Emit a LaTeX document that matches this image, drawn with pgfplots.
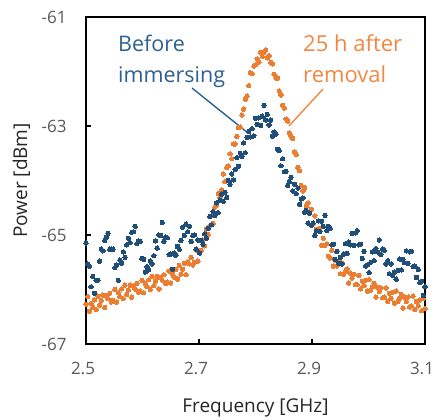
\documentclass[border=0pt]{standalone}
\usepackage{fontspec}
\setmainfont{Open Sans}
\usepackage{pgfplots}
\pgfplotsset{compat=1.18}
\definecolor{blueDot}{RGB}{31,78,121}
\definecolor{orangeDot}{RGB}{237,125,49}
\definecolor{blueTxt}{RGB}{46,96,146}
\definecolor{orangeTxt}{RGB}{242,135,66}
\definecolor{tickgray}{RGB}{89,89,89}
\begin{document}
\begin{tikzpicture}
\begin{axis}[
  scale only axis, width=339pt, height=327pt,
  xmin=2.5, xmax=3.1, ymin=-67, ymax=-61,
  xtick={2.5,2.7,2.9,3.1}, xticklabels={2.5,2.7,2.9,3.1},
  ytick={-67,-65,-63,-61}, yticklabels={-67,-65,-63,-61},
  tick pos=left, tick align=inside, major tick length=5pt,
  axis line style={line width=1.3pt, black},
  tick style={line width=1.3pt, black},
  ticklabel style={font=\fontsize{17}{20}\selectfont, text=tickgray},
  xticklabel style={yshift=-15pt, xshift=-3pt},
  yticklabel style={xshift=-16pt},
  xlabel={Frequency [GHz]}, ylabel={Power [dBm]},
  label style={font=\fontsize{19}{22}\selectfont, text=black!85},
  xlabel style={at={(axis description cs:0.5,-0.208)}, anchor=base},
  ylabel style={at={(axis description cs:-0.174,0.5)}, anchor=base, rotate=0},
]
\addplot[only marks, mark=*, mark size=2.2pt, mark options={draw=orangeDot, fill=orangeDot, line width=0pt}] coordinates {
(2.500,-66.27)(2.503,-66.13)(2.506,-66.40)(2.509,-66.26)(2.512,-66.33)(2.515,-66.19)(2.518,-66.37)(2.521,-66.12)
(2.524,-66.29)(2.527,-66.20)(2.530,-66.10)(2.533,-66.33)(2.536,-66.11)(2.539,-66.17)(2.542,-66.07)(2.545,-66.23)
(2.548,-66.20)(2.551,-66.00)(2.554,-66.23)(2.557,-66.06)(2.560,-66.13)(2.563,-65.99)(2.566,-66.17)(2.569,-65.92)
(2.572,-66.09)(2.575,-66.01)(2.578,-65.92)(2.581,-66.14)(2.584,-65.93)(2.587,-65.99)(2.590,-65.89)(2.593,-66.05)
(2.596,-66.03)(2.599,-65.83)(2.602,-66.06)(2.605,-65.89)(2.608,-65.95)(2.611,-65.82)(2.614,-66.00)(2.617,-65.76)
(2.620,-65.93)(2.623,-65.85)(2.626,-65.76)(2.629,-65.99)(2.632,-65.78)(2.635,-65.83)(2.638,-65.73)(2.641,-65.89)
(2.644,-65.86)(2.647,-65.66)(2.650,-65.88)(2.653,-65.71)(2.656,-65.77)(2.659,-65.63)(2.662,-65.81)(2.665,-65.56)
(2.668,-65.72)(2.671,-65.63)(2.674,-65.52)(2.677,-65.73)(2.680,-65.49)(2.683,-65.53)(2.686,-65.41)(2.689,-65.55)
(2.692,-65.50)(2.695,-65.28)(2.698,-65.48)(2.701,-65.28)(2.704,-65.28)(2.707,-65.09)(2.710,-65.20)(2.713,-64.89)
(2.716,-64.99)(2.719,-64.83)(2.722,-64.65)(2.725,-64.79)(2.728,-64.49)(2.731,-64.44)(2.734,-64.24)(2.737,-64.31)
(2.740,-64.17)(2.743,-63.88)(2.746,-64.02)(2.749,-63.76)(2.752,-63.73)(2.755,-63.51)(2.758,-63.60)(2.761,-63.33)
(2.764,-63.33)(2.767,-63.19)(2.770,-63.03)(2.773,-63.02)(2.776,-62.80)(2.779,-62.69)(2.782,-62.51)(2.785,-62.45)
(2.788,-62.26)(2.791,-62.02)(2.794,-62.04)(2.797,-61.90)(2.800,-61.88)(2.803,-61.77)(2.806,-61.83)(2.809,-61.65)
(2.812,-61.72)(2.815,-61.65)(2.818,-61.60)(2.821,-61.75)(2.824,-61.71)(2.827,-61.83)(2.830,-61.86)(2.833,-62.05)
(2.836,-62.12)(2.839,-62.12)(2.842,-62.36)(2.845,-62.43)(2.848,-62.62)(2.851,-62.67)(2.854,-62.87)(2.857,-62.91)
(2.860,-63.13)(2.863,-63.19)(2.866,-63.23)(2.869,-63.47)(2.872,-63.52)(2.875,-63.76)(2.878,-63.82)(2.881,-64.09)
(2.884,-64.19)(2.887,-64.13)(2.890,-64.47)(2.893,-64.41)(2.896,-64.58)(2.899,-64.53)(2.902,-64.80)(2.905,-64.65)
(2.908,-64.90)(2.911,-64.90)(2.914,-64.88)(2.917,-65.19)(2.920,-65.06)(2.923,-65.19)(2.926,-65.16)(2.929,-65.39)
(2.932,-65.42)(2.935,-65.28)(2.938,-65.57)(2.941,-65.46)(2.944,-65.57)(2.947,-65.49)(2.950,-65.71)(2.953,-65.51)
(2.956,-65.72)(2.959,-65.68)(2.962,-65.62)(2.965,-65.88)(2.968,-65.70)(2.971,-65.79)(2.974,-65.72)(2.977,-65.91)
(2.980,-65.91)(2.983,-65.74)(2.986,-65.99)(2.989,-65.85)(2.992,-65.93)(2.995,-65.83)(2.998,-66.03)(3.001,-65.82)
(3.004,-66.01)(3.007,-65.95)(3.010,-65.89)(3.013,-66.14)(3.016,-65.96)(3.019,-66.04)(3.022,-65.97)(3.025,-66.15)
(3.028,-66.14)(3.031,-65.97)(3.034,-66.22)(3.037,-66.07)(3.040,-66.16)(3.043,-66.05)(3.046,-66.25)(3.049,-66.03)
(3.052,-66.22)(3.055,-66.16)(3.058,-66.09)(3.061,-66.34)(3.064,-66.14)(3.067,-66.22)(3.070,-66.14)(3.073,-66.32)
(3.076,-66.30)(3.079,-66.12)(3.082,-66.37)(3.085,-66.22)(3.088,-66.30)(3.091,-66.19)(3.094,-66.39)(3.097,-66.17)
(3.100,-66.35)
};
\addplot[only marks, mark=*, mark size=2.2pt, mark options={draw=blueDot, fill=blueDot, line width=0pt}] coordinates {
(2.500,-65.15)(2.503,-65.53)(2.506,-65.57)(2.509,-65.95)(2.512,-65.76)(2.515,-66.07)(2.518,-65.83)(2.521,-65.83)
(2.524,-65.48)(2.527,-65.26)(2.530,-65.29)(2.533,-65.10)(2.536,-65.04)(2.539,-64.97)(2.542,-65.26)(2.545,-65.26)
(2.548,-65.26)(2.551,-65.60)(2.554,-65.55)(2.557,-65.83)(2.560,-65.46)(2.563,-65.52)(2.566,-65.31)(2.569,-65.41)
(2.572,-65.18)(2.575,-65.06)(2.578,-65.14)(2.581,-64.95)(2.584,-64.94)(2.587,-64.84)(2.590,-65.16)(2.593,-65.11)
(2.596,-65.12)(2.599,-65.43)(2.602,-65.45)(2.605,-65.68)(2.608,-65.58)(2.611,-65.64)(2.614,-65.48)(2.617,-65.53)
(2.620,-65.38)(2.623,-65.11)(2.626,-65.24)(2.629,-65.00)(2.632,-65.01)(2.635,-64.77)(2.638,-65.12)(2.641,-65.04)
(2.644,-65.05)(2.647,-65.36)(2.650,-65.35)(2.653,-65.63)(2.656,-65.33)(2.659,-65.37)(2.662,-65.21)(2.665,-65.26)
(2.668,-65.10)(2.671,-64.86)(2.674,-65.01)(2.677,-64.80)(2.680,-64.94)(2.683,-64.84)(2.686,-65.12)(2.689,-65.01)
(2.692,-65.00)(2.695,-65.26)(2.698,-65.09)(2.701,-65.33)(2.704,-65.10)(2.707,-65.17)(2.710,-64.98)(2.713,-65.06)
(2.716,-64.88)(2.719,-64.66)(2.722,-64.81)(2.725,-64.57)(2.728,-64.64)(2.731,-64.41)(2.734,-64.59)(2.737,-64.36)
(2.740,-64.25)(2.743,-64.38)(2.746,-64.22)(2.749,-64.31)(2.752,-64.00)(2.755,-64.07)(2.758,-63.88)(2.761,-63.99)
(2.764,-63.80)(2.767,-63.58)(2.770,-63.74)(2.773,-63.50)(2.776,-63.56)(2.779,-63.31)(2.782,-63.49)(2.785,-63.21)
(2.788,-63.10)(2.791,-63.20)(2.794,-63.05)(2.797,-63.18)(2.800,-62.86)(2.803,-62.97)(2.806,-62.85)(2.809,-62.99)
(2.812,-62.82)(2.815,-62.62)(2.818,-62.89)(2.821,-62.79)(2.824,-62.98)(2.827,-62.89)(2.830,-63.19)(2.833,-63.11)
(2.836,-63.15)(2.839,-63.43)(2.842,-63.45)(2.845,-63.73)(2.848,-63.60)(2.851,-63.84)(2.854,-63.83)(2.857,-64.09)
(2.860,-64.02)(2.863,-63.94)(2.866,-64.19)(2.869,-64.07)(2.872,-64.24)(2.875,-64.14)(2.878,-64.44)(2.881,-64.34)
(2.884,-64.32)(2.887,-64.58)(2.890,-64.55)(2.893,-64.78)(2.896,-64.60)(2.899,-64.82)(2.902,-64.78)(2.905,-65.01)
(2.908,-64.92)(2.911,-64.74)(2.914,-64.94)(2.917,-64.75)(2.920,-64.84)(2.923,-64.64)(2.926,-64.92)(2.929,-64.84)
(2.932,-64.88)(2.935,-65.18)(2.938,-65.17)(2.941,-65.45)(2.944,-65.30)(2.947,-65.52)(2.950,-65.41)(2.953,-65.53)
(2.956,-65.35)(2.959,-65.16)(2.962,-65.34)(2.965,-65.13)(2.968,-65.18)(2.971,-64.97)(2.974,-65.19)(2.977,-64.96)
(2.980,-64.92)(2.983,-65.18)(2.986,-65.17)(2.989,-65.43)(2.992,-65.30)(2.995,-65.57)(2.998,-65.55)(3.001,-65.69)
(3.004,-65.50)(3.007,-65.31)(3.010,-65.47)(3.013,-65.25)(3.016,-65.31)(3.019,-65.09)(3.022,-65.36)(3.025,-65.26)
(3.028,-65.28)(3.031,-65.53)(3.034,-65.47)(3.037,-65.71)(3.040,-65.53)(3.043,-65.74)(3.046,-65.68)(3.049,-65.81)
(3.052,-65.65)(3.055,-65.44)(3.058,-65.64)(3.061,-65.45)(3.064,-65.51)(3.067,-65.29)(3.070,-65.52)(3.073,-65.31)
(3.076,-65.30)(3.079,-65.58)(3.082,-65.57)(3.085,-65.78)(3.088,-65.63)(3.091,-65.87)(3.094,-65.85)(3.097,-66.11)
(3.100,-65.95)
};
\draw[blueTxt, line width=1.4pt] (axis cs:2.6876,-62.303) -- (axis cs:2.7867,-63.128);
\draw[orangeTxt, line width=1.4pt] (axis cs:2.9195,-62.321) -- (axis cs:2.8593,-63.0);
\node[anchor=base west, inner sep=0pt, text=blueTxt, font=\fontsize{21.5}{24}\selectfont] at (axis cs:2.5566,-61.624) {Before};
\node[anchor=base west, inner sep=0pt, text=blueTxt, font=\fontsize{21.5}{24}\selectfont] at (axis cs:2.5566,-62.211) {immersing};
\node[anchor=base west, inner sep=0pt, text=orangeTxt, font=\fontsize{22}{24}\selectfont] at (axis cs:2.8841,-61.642) {25 h after};
\node[anchor=base west, inner sep=0pt, text=orangeTxt, font=\fontsize{22}{24}\selectfont] at (axis cs:2.8841,-62.193) {removal};
\end{axis}
\pgfresetboundingbox
\path (-86pt,-75pt) rectangle (349pt,344pt);
\end{tikzpicture}
\end{document}
